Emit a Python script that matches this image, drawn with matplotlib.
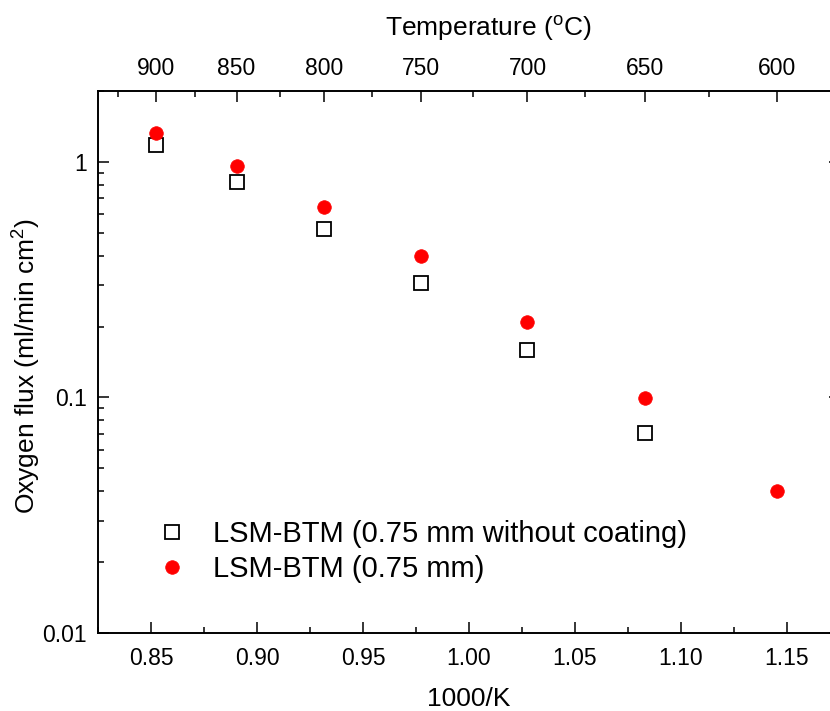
import numpy as np
import matplotlib
matplotlib.use("Agg")
import matplotlib.pyplot as plt
from matplotlib.ticker import (FixedLocator, FixedFormatter, FormatStrFormatter,
                               MultipleLocator, LogLocator, NullFormatter)

plt.rcParams['font.family'] = ['Liberation Sans', 'DejaVu Sans']
plt.rcParams['mathtext.fontset'] = 'custom'
plt.rcParams['mathtext.rm'] = 'Liberation Sans'
plt.rcParams['mathtext.it'] = 'Liberation Sans:italic'

# Measurement temperatures (°C) and oxygen flux (ml/min cm^2)
temp_uncoated = [900, 850, 800, 750, 700, 650]
flux_uncoated = [1.18, 0.82, 0.52, 0.305, 0.159, 0.0704]

temp_coated = [900, 850, 800, 750, 700, 650, 600]
flux_coated = [1.33, 0.96, 0.643, 0.40, 0.209, 0.099, 0.040]

top_major_temps = [900, 850, 800, 750, 700, 650, 600]
top_minor_temps = [925, 875, 825, 775, 725, 675, 625]

label_uncoated = "LSM-BTM (0.75 mm without coating)"
label_coated = "LSM-BTM (0.75 mm)"


def inv_t(t):
    return 1000.0 / (np.asarray(t, dtype=float) + 273.15)


W, H = 830, 711
ax_left, ax_right, ax_top, ax_bottom = 98, 840, 91, 633
fig = plt.figure(figsize=(W / 100, H / 100), dpi=100)
ax = fig.add_axes([ax_left / W, (H - ax_bottom) / H,
                   (ax_right - ax_left) / W, (ax_bottom - ax_top) / H])

ax.plot(inv_t(temp_uncoated), flux_uncoated, linestyle='none', marker='s',
        markersize=10.5, markerfacecolor='white', markeredgecolor='black',
        markeredgewidth=1.3, label=label_uncoated, zorder=3)
ax.plot(inv_t(temp_coated), flux_coated, linestyle='none', marker='o',
        markersize=9.8, markerfacecolor='#ff0000', markeredgecolor='#ff0000',
        markeredgewidth=0.5, label=label_coated, zorder=4)

ax.set_yscale('log')
ax.set_xlim(0.825, 1.175)
ax.set_ylim(0.01, 2.0)

tick_fs = 16.5
title_fs = 19
leg_fs = 21

ax.xaxis.set_major_locator(MultipleLocator(0.05))
ax.xaxis.set_minor_locator(MultipleLocator(0.025))
ax.xaxis.set_major_formatter(FormatStrFormatter('%.2f'))
ax.yaxis.set_major_locator(FixedLocator([0.01, 0.1, 1]))
ax.yaxis.set_major_formatter(FixedFormatter(['0.01', '0.1', '1']))
ax.yaxis.set_minor_locator(LogLocator(base=10, subs=np.arange(2, 10)))
ax.yaxis.set_minor_formatter(NullFormatter())

ax.tick_params(which='both', direction='in', width=1.1, labelsize=tick_fs,
               right=True, top=False)
ax.tick_params(which='major', length=8)
ax.tick_params(which='minor', length=4.5)
ax.tick_params(axis='x', pad=10)
ax.tick_params(axis='y', pad=8)

for s in ax.spines.values():
    s.set_linewidth(1.2)

ax.set_xlabel("1000/K", fontsize=title_fs, labelpad=12)
ax.set_ylabel("Oxygen flux (ml/min cm$^2$)", fontsize=title_fs)
ax.yaxis.set_label_coords((27 - ax_left) / (ax_right - ax_left),
                          (ax_bottom - 366) / (ax_bottom - ax_top))
ax.yaxis.label.set_verticalalignment('center')

# Temperature scale on the top axis
top = ax.twiny()
top.set_xlim(ax.get_xlim())
top.xaxis.set_major_locator(FixedLocator(inv_t(top_major_temps)))
top.xaxis.set_major_formatter(FixedFormatter([str(t) for t in top_major_temps]))
top.xaxis.set_minor_locator(FixedLocator(inv_t(top_minor_temps)))
top.tick_params(which='both', direction='in', width=1.1, labelsize=tick_fs, pad=8)
top.tick_params(which='major', length=8)
top.tick_params(which='minor', length=4.5)
top.set_xlabel("Temperature ($^{\\mathrm{o}}$C)", fontsize=title_fs)
top.xaxis.set_label_coords((488 - ax_left) / (ax_right - ax_left),
                           (ax_bottom - 29) / (ax_bottom - ax_top))
top.xaxis.label.set_verticalalignment('center')
for s in top.spines.values():
    s.set_linewidth(1.2)

leg = ax.legend(loc='center left', bbox_to_anchor=(0.080, 0.150), frameon=False,
                fontsize=leg_fs, handletextpad=0.9, labelspacing=0.25,
                handlelength=1.0, borderaxespad=0, borderpad=0)

fig.savefig("out.png", dpi=100)
